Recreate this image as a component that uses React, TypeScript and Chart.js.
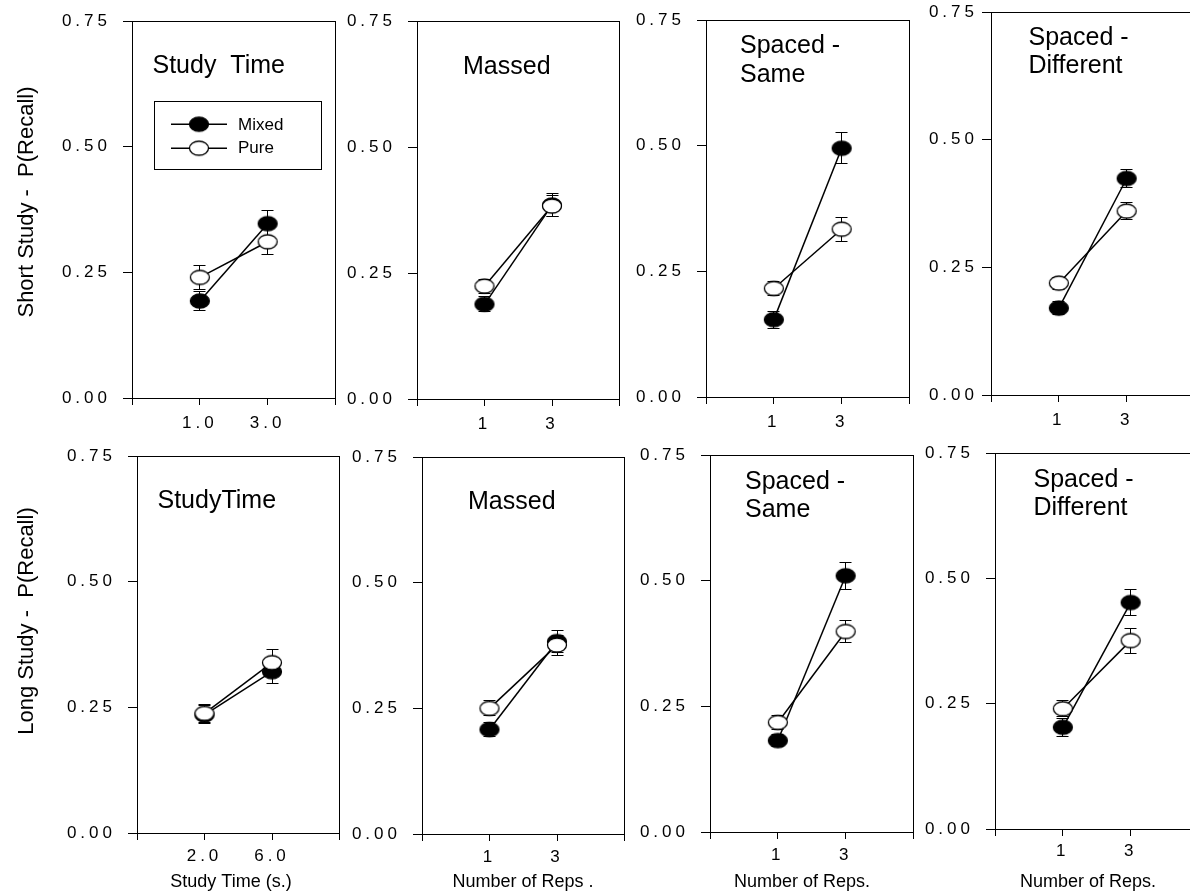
import React, { useEffect, useRef } from 'react';
import { Chart, registerables } from 'chart.js';

Chart.register(...registerables);

const FONT = '"Liberation Sans", Arial, Helvetica, sans-serif';

// ---------- data ----------
const SERIES_NAMES = ['Mixed', 'Pure'];
const ROW_TITLES = ['Short Study -  P(Recall)', 'Long Study -  P(Recall)'];
const PANEL_TITLES = [
  ['Study  Time'], ['Massed'], ['Spaced -', 'Same'], ['Spaced -', 'Different'],
  ['StudyTime'], ['Massed'], ['Spaced -', 'Same'], ['Spaced -', 'Different'],
];
const X_TICK_LABELS = [
  ['1.0', '3.0'], ['1', '3'], ['1', '3'], ['1', '3'],
  ['2.0', '6.0'], ['1', '3'], ['1', '3'], ['1', '3'],
];
const X_TITLES = ['', '', '', '', 'Study Time (s.)', 'Number of Reps .', 'Number of Reps.', 'Number of Reps.'];
const Y_MIN = 0;
const Y_MAX = 0.75;
const Y_STEP = 0.25;

const MIXED_MEAN = [
  [0.193, 0.347], [0.188, 0.385], [0.154, 0.495], [0.170, 0.424],
  [0.235, 0.321], [0.208, 0.383], [0.182, 0.510], [0.203, 0.452],
];
const MIXED_SE = [
  [0.019, 0.026], [0.015, 0.022], [0.017, 0.031], [0.013, 0.018],
  [0.018, 0.024], [0.014, 0.022], [0.012, 0.027], [0.018, 0.026],
];
const PURE_MEAN = [
  [0.240, 0.311], [0.224, 0.383], [0.216, 0.334], [0.219, 0.360],
  [0.238, 0.339], [0.250, 0.376], [0.218, 0.399], [0.240, 0.376],
];
const PURE_SE = [
  [0.024, 0.026], [0.014, 0.020], [0.014, 0.024], [0.012, 0.017],
  [0.018, 0.026], [0.015, 0.020], [0.013, 0.022], [0.016, 0.025],
];

// ---------- layout (page pixels) ----------
const PLOT_BOXES = [
  { l: 132, t: 15, r: 338, b: 398 },
  { l: 417, t: 15, r: 622, b: 399 },
  { l: 706, t: 14, r: 912, b: 397 },
  { l: 991, t: 12, r: 1197, b: 395 },
  { l: 137, t: 450, r: 342, b: 833 },
  { l: 422, t: 451, r: 627, b: 834 },
  { l: 710, t: 449, r: 916, b: 832 },
  { l: 995, t: 447, r: 1201, b: 829 },
];
// panel heading: x offset from left axis, baselines below top edge
const HEADING_POS = [
  { dx: 20.5, base: [52] },
  { dx: 46, base: [53] },
  { dx: 34, base: [33, 62] },
  { dx: 37.5, base: [33, 61] },
  { dx: 20.5, base: [52] },
  { dx: 46, base: [52] },
  { dx: 35, base: [34, 62] },
  { dx: 38.5, base: [34, 62] },
];
const Y_TICK_PAD = [12, 12, 12, 4, 12, 12, 12, 12];
const X_TICK_PAD = [8, 8, 8, 8, 6, 6, 6, 5];
const X_TITLE_POS = [null, null, null, null, { dx: 94, base: 54 }, { dx: 101, base: 53 }, { dx: 92, base: 55 }, { dx: 93, base: 58 }];
const ROW_TITLE_POS = [{ x: 33, y: 202 }, { x: 33, y: 621 }];

function makeMarker(filled: boolean): HTMLCanvasElement {
  const c = document.createElement('canvas');
  c.width = 24;
  c.height = 18;
  const g = c.getContext('2d')!;
  g.beginPath();
  g.ellipse(12, 9, 9.5, 7, 0, 0, Math.PI * 2);
  g.fillStyle = filled ? '#000' : '#fff';
  g.fill();
  g.lineWidth = 1.3;
  g.strokeStyle = '#000';
  g.stroke();
  return c;
}

const align = (v: number) => Math.round(v - 0.5) + 0.5;

const errorBarPlugin = {
  id: 'errorBars',
  beforeDatasetsDraw(chart: any) {
    const { ctx } = chart;
    const ys = chart.scales.y;
    ctx.save();
    ctx.strokeStyle = '#000';
    ctx.lineWidth = 1;
    chart.data.datasets.forEach((ds: any, di: number) => {
      const meta = chart.getDatasetMeta(di);
      meta.data.forEach((pt: any, i: number) => {
        const v = ds.data[i].y;
        const e = ds.errors[i];
        const x = align(pt.x);
        const yTop = align(ys.getPixelForValue(v + e));
        const yBot = align(ys.getPixelForValue(v - e));
        ctx.beginPath();
        ctx.moveTo(x, yTop);
        ctx.lineTo(x, yBot);
        ctx.moveTo(x - 6, yTop);
        ctx.lineTo(x + 6, yTop);
        ctx.moveTo(x - 6, yBot);
        ctx.lineTo(x + 6, yBot);
        ctx.stroke();
      });
    });
    ctx.restore();
  },
};

const framePlugin = {
  id: 'frame',
  beforeDatasetsDraw(chart: any) {
    const { ctx, chartArea: a } = chart;
    ctx.save();
    ctx.strokeStyle = '#000';
    ctx.lineWidth = 1;
    ctx.beginPath();
    const top = align(a.top);
    const right = align(a.right);
    ctx.moveTo(a.left, top);
    ctx.lineTo(right + 0.5, top);
    ctx.moveTo(right, top);
    ctx.lineTo(right, a.bottom);
    ctx.stroke();
    ctx.restore();
  },
};

// tick labels are drawn after the datasets (ticks.z = 1) with wide letter spacing
const tickSpacingPlugin = {
  id: 'tickSpacing',
  beforeDraw(chart: any) {
    chart.ctx.letterSpacing = '0px';
  },
  afterDatasetsDraw(chart: any) {
    chart.ctx.letterSpacing = '4px';
  },
  afterDraw(chart: any) {
    chart.ctx.letterSpacing = '0px';
  },
};

function Panel({ idx, markers }: { idx: number; markers: HTMLCanvasElement[] }) {
  const ref = useRef<HTMLCanvasElement>(null);
  const box = PLOT_BOXES[idx];
  const row = idx < 4 ? 0 : 1;
  const col = idx % 4;
  const yw = col === 0 ? box.l : 80;
  const padTop = 16;
  const padRight = 8;
  const xh = row === 0 ? 40 : 70;
  const width = yw + (box.r - box.l) + padRight;
  const height = padTop + (box.b - box.t) + xh;
  const left = box.l - yw;
  const top = box.t - padTop;

  useEffect(() => {
    const canvas = ref.current;
    if (!canvas) return;
    const tickFont = { family: FONT, size: 17 };

    const textPlugin = {
      id: 'panelText',
      afterDraw(chart: any) {
        const { ctx, chartArea: a } = chart;
        ctx.save();
        ctx.letterSpacing = '0px';
        ctx.fillStyle = '#000';
        ctx.textBaseline = 'alphabetic';

        // heading inside the frame
        const hp = HEADING_POS[idx];
        ctx.font = `25px ${FONT}`;
        ctx.textAlign = 'left';
        PANEL_TITLES[idx].forEach((line, li) => {
          ctx.fillText(line, a.left + hp.dx, a.top + hp.base[li]);
        });

        // x-axis title
        const xt = X_TITLE_POS[idx];
        if (xt && X_TITLES[idx]) {
          ctx.font = `18px ${FONT}`;
          ctx.textAlign = 'center';
          ctx.fillText(X_TITLES[idx], a.left + xt.dx, a.bottom + xt.base);
        }

        // row title on the first column
        if (col === 0) {
          const rp = ROW_TITLE_POS[row];
          ctx.save();
          ctx.translate(rp.x - left, rp.y - top);
          ctx.rotate(-Math.PI / 2);
          ctx.font = `22px ${FONT}`;
          ctx.textAlign = 'center';
          ctx.fillText(ROW_TITLES[row], 0, 0);
          ctx.restore();
        }

        // legend in the first panel
        if (idx === 0) {
          const bx = align(a.left + 22);
          const by = align(a.top + 80);
          ctx.strokeStyle = '#000';
          ctx.lineWidth = 1;
          ctx.strokeRect(bx, by, 167, 68);
          ctx.font = `17px ${FONT}`;
          ctx.textAlign = 'left';
          const rows = [
            { y: a.top + 103, base: a.top + 109, m: markers[0] },
            { y: a.top + 127, base: a.top + 131.5, m: markers[1] },
          ];
          rows.forEach((r, ri) => {
            ctx.lineWidth = 1.5;
            ctx.beginPath();
            ctx.moveTo(a.left + 39, r.y);
            ctx.lineTo(a.left + 95, r.y);
            ctx.stroke();
            ctx.drawImage(r.m, a.left + 67 - r.m.width / 2, r.y - r.m.height / 2);
            ctx.fillText(SERIES_NAMES[ri], a.left + 106, r.base);
          });
        }
        ctx.restore();
      },
    };

    const makeDataset = (name: string, mean: number[], se: number[], marker: HTMLCanvasElement, order: number) => ({
      label: name,
      data: mean.map((y, i) => ({ x: i + 1, y })),
      errors: se,
      borderColor: '#000',
      backgroundColor: '#000',
      borderWidth: 1.5,
      pointStyle: marker,
      pointRadius: 9,
      pointHoverRadius: 9,
      tension: 0,
      fill: false,
      order,
      clip: false,
    });

    const chart = new Chart(canvas, {
      type: 'line',
      data: {
        datasets: [
          makeDataset(SERIES_NAMES[0], MIXED_MEAN[idx], MIXED_SE[idx], markers[0], 1),
          makeDataset(SERIES_NAMES[1], PURE_MEAN[idx], PURE_SE[idx], markers[1], 0),
        ],
      } as any,
      options: {
        animation: false,
        responsive: false,
        maintainAspectRatio: false,
        events: [],
        layout: { padding: { top: padTop, right: padRight, left: 0, bottom: 0 } },
        plugins: { legend: { display: false }, tooltip: { enabled: false }, title: { display: false } },
        scales: {
          x: {
            type: 'linear',
            min: 0,
            max: 3,
            ticks: {
              stepSize: 1,
              autoSkip: false,
              maxRotation: 0,
              color: '#000',
              font: tickFont,
              padding: X_TICK_PAD[idx],
              z: 1,
              callback: (v: any) => X_TICK_LABELS[idx][Number(v) - 1] ?? '',
            },
            grid: { display: true, drawOnChartArea: false, drawTicks: true, tickLength: 7, color: '#000', lineWidth: 1 },
            border: { display: true, color: '#000', width: 1 },
            afterFit: (s: any) => {
              s.height = xh;
            },
          },
          y: {
            type: 'linear',
            min: Y_MIN,
            max: Y_MAX,
            ticks: {
              stepSize: Y_STEP,
              color: '#000',
              font: tickFont,
              padding: Y_TICK_PAD[idx],
              z: 1,
              callback: (v: any) => Number(v).toFixed(2),
            },
            grid: { display: true, drawOnChartArea: false, drawTicks: true, tickLength: 9, color: '#000', lineWidth: 1 },
            border: { display: true, color: '#000', width: 1 },
            afterFit: (s: any) => {
              s.width = yw;
            },
          },
        },
      } as any,
      plugins: [errorBarPlugin, framePlugin, tickSpacingPlugin, textPlugin] as any,
    });
    return () => chart.destroy();
  }, []);

  return (
    <canvas
      ref={ref}
      width={width}
      height={height}
      style={{ position: 'absolute', left, top, width, height }}
    />
  );
}

export default function App() {
  const markers = React.useMemo(() => [makeMarker(true), makeMarker(false)], []);
  return (
    <div
      style={{
        position: 'fixed',
        left: 0,
        top: 0,
        width: 1190,
        height: 893,
        overflow: 'hidden',
        background: '#fff',
      }}
    >
      {PLOT_BOXES.map((_, i) => (
        <Panel key={i} idx={i} markers={markers} />
      ))}
    </div>
  );
}
